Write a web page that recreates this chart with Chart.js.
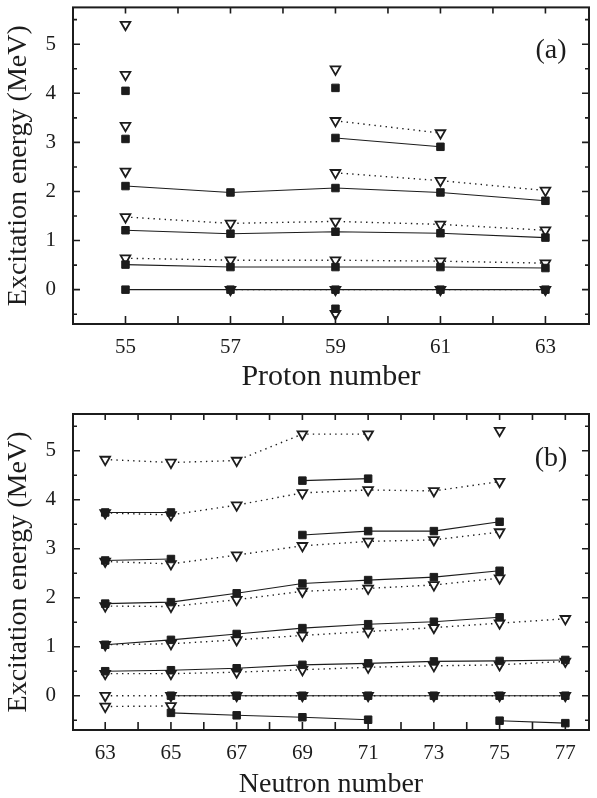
<!DOCTYPE html>
<html lang="en">
<head>
  <meta charset="UTF-8" />
  <title>Excitation energy systematics</title>
  <script src="https://cdn.jsdelivr.net/npm/chart.js"></script>
  <style>
    body {
      margin: 0;
      padding: 0;
      background: #ffffff;
    }
    .panel {
      position: relative;
      width: 597px;
    }
    #panelA { height: 400px; }
    #panelB { height: 398px; }
  </style>
</head>
<body>
  <div class="panel" id="panelA"><canvas id="chartA"></canvas></div>
  <div class="panel" id="panelB"><canvas id="chartB"></canvas></div>

  <script>
    // ---- panel (a): proton number ----
    const protonNumbers = [55, 57, 59, 61, 63];
    const protonTickLabels = [55, 57, 59, 61, 63];

    // filled squares (solid lines)
    const aSq0 = [0, 0, 0, 0, 0];
    const aSq1 = [0.51, 0.46, 0.46, 0.46, 0.44];
    const aSq2 = [1.21, 1.14, 1.18, 1.15, 1.06];
    const aSq3 = [2.11, 1.98, 2.07, 1.98, 1.81];
    const aSq4 = [null, null, 3.09, 2.91, null];
    const aSq5 = [3.07, null, null, null, null];
    const aSq6 = [4.05, null, 4.11, null, null];
    const aSq7 = [null, null, -0.39, null, null];

    // open triangles (dotted lines)
    const aTr0 = [null, 0, 0, 0, 0];
    const aTr1 = [0.64, 0.60, 0.60, 0.58, 0.54];
    const aTr2 = [1.48, 1.35, 1.39, 1.33, 1.21];
    const aTr3 = [2.41, null, 2.38, 2.22, 2.02];
    const aTr4 = [3.34, null, 3.44, 3.19, null];
    const aTr5 = [4.38, null, 4.49, null, null];
    const aTr6 = [5.40, null, null, null, null];
    const aTr7 = [null, null, -0.49, null, null];

    // ---- panel (b): neutron number ----
    const neutronNumbers = [63, 65, 67, 69, 71, 73, 75, 77];
    const neutronTickLabels = [63, 65, 67, 69, 71, 73, 75, 77];

    const bSq0 = [null, 0, 0, 0, 0, 0, 0, 0];
    const bSq1 = [null, -0.35, -0.40, -0.44, -0.49, null, -0.51, -0.56];
    const bSq2 = [0.50, 0.52, 0.56, 0.63, 0.66, 0.70, 0.71, 0.73];
    const bSq3 = [1.04, 1.14, 1.26, 1.38, 1.46, 1.51, 1.60, null];
    const bSq4 = [1.88, 1.91, 2.09, 2.29, 2.36, 2.42, 2.55, null];
    const bSq5 = [2.76, 2.79, null, 3.28, 3.36, 3.36, 3.55, null];
    const bSq6 = [3.74, 3.74, null, 4.39, 4.43, null, null, null];

    const bTr0 = [0, 0, 0, 0, 0, 0, 0, 0];
    const bTr1 = [-0.22, -0.21, null, null, null, null, null, null];
    const bTr2 = [0.45, 0.45, 0.48, 0.53, 0.58, 0.61, 0.63, 0.70];
    const bTr3 = [1.04, 1.06, 1.14, 1.23, 1.31, 1.39, 1.48, 1.57];
    const bTr4 = [1.83, 1.82, 1.96, 2.13, 2.19, 2.26, 2.40, null];
    const bTr5 = [2.74, 2.69, 2.87, 3.06, 3.15, 3.18, 3.34, null];
    const bTr6 = [3.73, 3.69, 3.89, 4.14, 4.20, 4.18, 4.37, null];
    const bTr7 = [4.82, 4.76, 4.80, 5.34, 5.34, null, 5.41, null];

    const energyTickLabels = [0, 1, 2, 3, 4, 5];

    const INK = '#1c1c1c';
    const SERIF = "'Liberation Serif', 'DejaVu Serif', serif";

    function squares(xs, ys) {
      return {
        data: xs.map((x, i) => ({ x: x, y: ys[i] })),
        borderColor: INK,
        borderWidth: 1.1,
        pointStyle: 'rect',
        pointRadius: 5.3,
        pointBackgroundColor: INK,
        pointBorderColor: INK,
        pointBorderWidth: 1,
        order: 0
      };
    }

    function triangles(xs, ys) {
      return {
        data: xs.map((x, i) => ({ x: x, y: ys[i] })),
        borderColor: INK,
        borderWidth: 1.4,
        borderDash: [1.4, 4.2],
        pointStyle: 'triangle',
        rotation: 180,
        pointRadius: 5.6,
        pointBackgroundColor: '#ffffff',
        pointBorderColor: INK,
        pointBorderWidth: 1.8,
        order: 1
      };
    }

    // box frame with inward ticks on all sides, plus the panel tag
    const frameTicks = {
      id: 'frameTicks',
      afterDraw(chart) {
        const { ctx, chartArea: a, scales } = chart;
        const o = chart.options.plugins.frameTicks;
        ctx.save();
        ctx.strokeStyle = INK;
        ctx.lineWidth = 1.6;
        o.xMarks.forEach(v => {
          const px = scales.x.getPixelForValue(v);
          ctx.beginPath();
          ctx.moveTo(px, a.bottom); ctx.lineTo(px, a.bottom - 8);
          ctx.moveTo(px, a.top); ctx.lineTo(px, a.top + 6);
          ctx.stroke();
        });
        for (let k = -1; k <= 11; k++) {
          const v = k / 2;
          const py = scales.y.getPixelForValue(v);
          if (py < a.top || py > a.bottom) continue;
          const len = k % 2 === 0 ? 7 : 4;
          ctx.beginPath();
          ctx.moveTo(a.left, py); ctx.lineTo(a.left + len, py);
          ctx.moveTo(a.right, py); ctx.lineTo(a.right - len, py);
          ctx.stroke();
        }
        ctx.lineWidth = 2;
        ctx.strokeRect(a.left, a.top, a.right - a.left, a.bottom - a.top);
        ctx.fillStyle = INK;
        ctx.font = '28px ' + SERIF;
        ctx.textAlign = 'center';
        ctx.textBaseline = 'middle';
        ctx.fillText(o.tag, a.right - 38, a.top + o.tagDy);
        ctx.restore();
      }
    };

    function makeChart(id, tickLabels, xMin, xMax, xTitle, titleSize, titlePad, datasets, tag, tagDy, topPad, xHeight) {
      const marks = [];
      for (let v = Math.ceil(xMin); v <= Math.floor(xMax); v++) marks.push(v);
      return new Chart(document.getElementById(id), {
        type: 'line',
        data: { datasets: datasets },
        plugins: [frameTicks],
        options: {
          responsive: true,
          maintainAspectRatio: false,
          animation: false,
          layout: { padding: { top: topPad, right: 8, left: 0, bottom: 0 } },
          plugins: {
            legend: { display: false },
            tooltip: { enabled: false },
            frameTicks: { xMarks: marks, tag: tag, tagDy: tagDy }
          },
          scales: {
            x: {
              type: 'linear',
              min: xMin,
              max: xMax,
              afterBuildTicks: s => { s.ticks = tickLabels.map(v => ({ value: v })); },
              afterFit: s => { s.height = xHeight; s.paddingLeft = 0; s.paddingRight = 0; },
              grid: { display: false, drawTicks: false },
              border: { display: false },
              ticks: {
                color: INK,
                font: { family: SERIF, size: 21 },
                padding: 11,
                maxRotation: 0,
                autoSkip: false
              },
              title: {
                display: true,
                text: xTitle,
                color: INK,
                font: { family: SERIF, size: titleSize },
                padding: { top: 0, bottom: titlePad }
              }
            },
            y: {
              min: -0.7,
              max: 5.75,
              afterBuildTicks: s => { s.ticks = energyTickLabels.map(v => ({ value: v })); },
              afterFit: s => { s.width = 73; s.paddingTop = 0; s.paddingBottom = 0; },
              grid: { display: false, drawTicks: false },
              border: { display: false },
              ticks: {
                color: INK,
                font: { family: SERIF, size: 21 },
                padding: 17
              },
              title: {
                display: true,
                text: 'Excitation energy (MeV)',
                color: INK,
                font: { family: SERIF, size: 28 },
                padding: { top: 2, bottom: 0 }
              }
            }
          }
        }
      });
    }

    const datasetsA = [
      ...[aSq0, aSq1, aSq2, aSq3, aSq4, aSq5, aSq6, aSq7].map(s => squares(protonNumbers, s)),
      ...[aTr0, aTr1, aTr2, aTr3, aTr4, aTr5, aTr6, aTr7].map(s => triangles(protonNumbers, s))
    ];
    const datasetsB = [
      ...[bSq0, bSq1, bSq2, bSq3, bSq4, bSq5, bSq6].map(s => squares(neutronNumbers, s)),
      ...[bTr0, bTr1, bTr2, bTr3, bTr4, bTr5, bTr6, bTr7].map(s => triangles(neutronNumbers, s))
    ];

    makeChart('chartA', protonTickLabels, 54, 63.83, 'Proton number', 30, 5, datasetsA, '(a)', 43, 7, 76);
    makeChart('chartB', neutronTickLabels, 62.02, 77.72, 'Neutron number', 28, -3, datasetsB, '(b)', 45, 14, 68);
  </script>
</body>
</html>
